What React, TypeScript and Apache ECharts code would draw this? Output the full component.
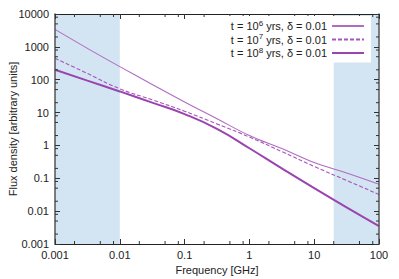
import React, { useEffect, useRef } from "react";
import * as echarts from "echarts";

const FREQ = [0.001, 0.00316, 0.01, 0.0316, 0.1, 0.316, 1, 3.16, 10, 31.6, 100];
const T6 = [3400, 900, 250, 72, 21, 6.5, 2.0, 0.8, 0.3, 0.145, 0.066];
const T7 = [450, 155, 53, 24.5, 11, 4.5, 1.8, 0.65, 0.23, 0.086, 0.032];
const T8 = [200, 94, 44, 20, 9.0, 3.2, 0.82, 0.2, 0.05, 0.013, 0.0035];

const X_LABELS = ["0.001", "0.01", "0.1", "1", "10", "100"];
const Y_LABELS = ["0.001", "0.01", "0.1", "1", "10", "100", "1000", "10000"];
const BANDS = [
  [0.001, 0.01],
  [20, 100],
];
const MINOR_MULT = [2, 5, 8];
const SERIES_EXP = ["6", "7", "8"];

const FONT = "'Liberation Sans', Arial, Helvetica, sans-serif";

function labelFor(list: string[], minExp: number) {
  return (v: number) => {
    const e = Math.round(Math.log10(v));
    return list[e - minExp] ?? "";
  };
}

function minorValues(minExp: number, maxExp: number) {
  const out: number[] = [];
  for (let e = minExp; e < maxExp; e++) {
    for (const m of MINOR_MULT) out.push(m * Math.pow(10, e));
  }
  return out;
}

export default function App() {
  const ref = useRef<HTMLDivElement>(null);
  useEffect(() => {
    document.body.style.margin = "0";
    const chart = echarts.init(ref.current!, undefined, { renderer: "svg" });
    const axisColor = "#333";
    const names = SERIES_EXP.map((e) => "t" + e);
    const mk = (vals: number[]) => FREQ.map((f, i) => [f, vals[i]]);
    const tickCommon = { show: true, inside: true, length: 5, lineStyle: { color: axisColor, width: 1 } };
    const xBase = {
      type: "log" as const,
      logBase: 10,
      min: 0.001,
      max: 100,
      splitLine: { show: false },
      axisLine: { show: true, lineStyle: { color: "#222", width: 1 } },
      axisTick: tickCommon,
      z: 10,
    };
    const yBase = {
      type: "log" as const,
      logBase: 10,
      min: 0.001,
      max: 10000,
      splitLine: { show: false },
      axisLine: { show: true, lineStyle: { color: "#555", width: 1.5 } },
      axisTick: tickCommon,
      z: 10,
    };
    const minorX = minorValues(-3, 2);
    const minorY = minorValues(-3, 4);
    const option: any = {
      animation: false,
      textStyle: { fontFamily: FONT },
      grid: { left: 55, top: 14, right: 20, bottom: 35, containLabel: false, outerBoundsMode: "none" },
      xAxis: [
        {
          ...xBase,
          position: "bottom",
          name: "Frequency [GHz]",
          nameLocation: "middle",
          nameGap: 20,
          nameMoveOverlap: false,
          nameTextStyle: { fontSize: 11, color: "#222", fontFamily: FONT },
          axisLabel: {
            formatter: labelFor(X_LABELS, -3),
            fontSize: 11,
            color: "#222",
            margin: 5,
            fontFamily: FONT,
          },
        },
        { ...xBase, position: "top", axisLabel: { show: false } },
      ],
      yAxis: [
        {
          ...yBase,
          position: "left",
          name: "Flux density [arbitrary units]",
          nameLocation: "middle",
          nameGap: 37,
          nameMoveOverlap: false,
          nameTextStyle: { fontSize: 11, color: "#222", fontFamily: FONT },
          axisLabel: {
            formatter: labelFor(Y_LABELS, -3),
            fontSize: 11,
            color: "#222",
            margin: 6,
            fontFamily: FONT,
          },
        },
        { ...yBase, position: "right", axisLabel: { show: false } },
      ],
      legend: {
        data: names,
        orient: "vertical",
        right: 28,
        top: 16,
        align: "right",
        itemWidth: 32,
        itemHeight: 12,
        itemGap: 1,
        padding: [3, 6, 4, 6],
        backgroundColor: "#ffffff",
        itemStyle: { opacity: 0 },
        z: 20,
        formatter: (name: string) => {
          const e = name.slice(1);
          return `{a|t = 10}{s|${e}}{a| yrs, δ = 0.01}`;
        },
        textStyle: {
          fontFamily: FONT,
          fontSize: 11,
          color: "#222",
          rich: {
            a: { fontSize: 11, fontFamily: FONT, color: "#222" },
            s: { fontSize: 8, fontFamily: FONT, color: "#222", verticalAlign: "top", padding: [0, 0, 6, 0] },
          },
        },
      },
      series: [
        {
          name: names[0],
          type: "line",
          xAxisIndex: 0,
          yAxisIndex: 0,
          data: mk(T6),
          smooth: 0.4,
          symbol: "none",
          lineStyle: { color: "#b06cc2", width: 1.1 },
          itemStyle: { color: "#b06cc2" },
          markArea: {
            silent: true,
            itemStyle: { color: "#d3e5f2" },
            data: BANDS.map((b) => [{ xAxis: b[0] }, { xAxis: b[1] }]),
          },
          z: 3,
        },
        {
          name: names[1],
          type: "line",
          xAxisIndex: 0,
          yAxisIndex: 0,
          data: mk(T7),
          smooth: 0.5,
          symbol: "none",
          lineStyle: { color: "#a656b8", width: 1.1, type: [4, 2] },
          itemStyle: { color: "#a656b8" },
          z: 3,
        },
        {
          name: names[2],
          type: "line",
          xAxisIndex: 0,
          yAxisIndex: 0,
          data: mk(T8),
          smooth: 0.5,
          symbol: "none",
          lineStyle: { color: "#9a44b0", width: 2 },
          itemStyle: { color: "#9a44b0" },
          z: 3,
        },
        {
          type: "custom",
          xAxisIndex: 0,
          yAxisIndex: 0,
          silent: true,
          z: 11,
          data: minorX.map((v) => [v, 1]),
          encode: { x: 0, y: 1 },
          renderItem: (params: any, api: any) => {
            const p = api.coord([api.value(0), 1]);
            const cs = params.coordSys;
            const b = cs.y + cs.height;
            const st = { stroke: axisColor, lineWidth: 1 };
            return {
              type: "group",
              children: [
                { type: "line", shape: { x1: p[0], y1: b, x2: p[0], y2: b - 3 }, style: st },
                { type: "line", shape: { x1: p[0], y1: cs.y, x2: p[0], y2: cs.y + 3 }, style: st },
              ],
            };
          },
        },
        {
          type: "custom",
          xAxisIndex: 0,
          yAxisIndex: 0,
          silent: true,
          z: 11,
          data: minorY.map((v) => [1, v]),
          encode: { x: 0, y: 1 },
          renderItem: (params: any, api: any) => {
            const p = api.coord([1, api.value(1)]);
            const cs = params.coordSys;
            const r = cs.x + cs.width;
            const st = { stroke: axisColor, lineWidth: 1 };
            return {
              type: "group",
              children: [
                { type: "line", shape: { x1: cs.x, y1: p[1], x2: cs.x + 3, y2: p[1] }, style: st },
                { type: "line", shape: { x1: r, y1: p[1], x2: r - 3, y2: p[1] }, style: st },
              ],
            };
          },
        },
      ],
    };
    chart.setOption(option);
    return () => chart.dispose();
  }, []);
  return <div ref={ref} style={{ width: 399, height: 279 }} />;
}
